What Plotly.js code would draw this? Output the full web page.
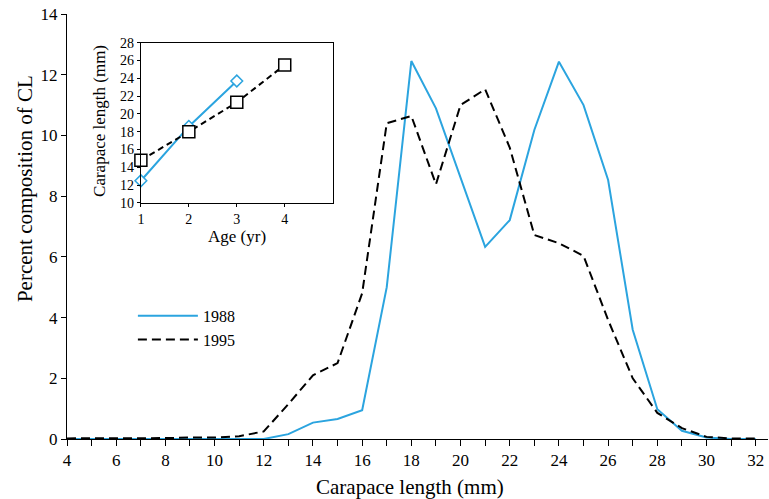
<!DOCTYPE html>
<html>
<head>
<meta charset="utf-8">
<script src="https://cdn.plot.ly/plotly-3.0.1.min.js"></script>
<style>body{margin:0;padding:0;background:#fff;}#chart{width:769px;height:499px;}</style>
</head>
<body>
<div id="chart"></div>
<script>
// Main chart data
const lengths = [4,5,6,7,8,9,10,11,12,13,14,15,16,17,18,19,20,21,22,23,24,25,26,27,28,29,30,31,32];
const pct1988 = [0,0,0,0,0,0,0,0,0,0.16,0.54,0.66,0.95,5.0,12.45,10.89,8.6,6.33,7.21,10.18,12.43,11.0,8.53,3.6,0.98,0.27,0.05,0,0];
const pct1995 = [0.02,0.02,0.02,0.02,0.03,0.05,0.05,0.09,0.25,1.15,2.1,2.5,4.8,10.4,10.64,8.39,11.0,11.52,9.6,6.72,6.45,6.03,3.92,2.0,0.86,0.36,0.07,0.02,0.02];
// Inset data
const ages1988 = [1,2,3];
const cl1988 = [12.5,18.6,23.7];
const ages1995 = [1,2,3,4];
const cl1995 = [14.8,18.0,21.3,25.5];

const xTitle = 'Carapace length (mm)';
const yTitle = 'Percent composition of CL';
const insetXTitle = 'Age (yr)';
const insetYTitle = 'Carapace length (mm)';

const blue = '#2ba4df';
const serif = 'Liberation Serif, Times New Roman, serif';

const traces = [
  {x: lengths, y: pct1988, type:'scatter', mode:'lines', name:'1988',
   line:{color:blue, width:2}, xaxis:'x', yaxis:'y'},
  {x: lengths, y: pct1995, type:'scatter', mode:'lines', name:'1995',
   line:{color:'#000', width:2, dash:'9px,5px'}, xaxis:'x', yaxis:'y'},
  {x: ages1988, y: cl1988, type:'scatter', mode:'lines+markers', showlegend:false, cliponaxis:false,
   line:{color:blue, width:2}, marker:{symbol:'diamond', size:9, color:'#fff', line:{width:1.5, color:blue}},
   xaxis:'x3', yaxis:'y3'},
  {x: ages1995, y: cl1995, type:'scatter', mode:'lines+markers', showlegend:false, cliponaxis:false,
   line:{color:'#000', width:2, dash:'6px,4px'}, marker:{symbol:'square', size:12, color:'#fff', line:{width:1.5, color:'#000'}},
   xaxis:'x3', yaxis:'y3'}
];

const P = (px) => (px - 67) / 702;   // helper for paper x
const Q = (py) => (439 - py) / 425;  // helper for paper y

const insetXDomain = [0.1054,0.379];
const insetYDomain = [0.5553,0.9325];

const layout = {
  width:769, height:499,
  margin:{l:67, r:1, t:14, b:60},
  paper_bgcolor:'#fff', plot_bgcolor:'rgba(0,0,0,0)',
  font:{family:serif, color:'#000', size:16},
  showlegend:true,
  legend:{x:0.094, y:0.33, xanchor:'left', yanchor:'top', bgcolor:'rgba(0,0,0,0)',
          font:{family:serif, size:16}, itemwidth:60, tracegroupgap:4},
  xaxis:{range:[4,32.5], showgrid:false, zeroline:false, showline:true, linecolor:'#000', linewidth:1,
         ticks:'outside', ticklen:6, tickcolor:'#000', tick0:4, dtick:2,
         minor:{ticks:'outside', ticklen:6, dtick:1, tick0:4, tickcolor:'#000'},
         tickfont:{family:serif, size:17}},
  yaxis:{range:[0,14], showgrid:false, zeroline:false, showline:true, linecolor:'#000', linewidth:1,
         ticks:'outside', ticklen:5, tickcolor:'#000', dtick:2,
         tickfont:{family:serif, size:17}},
  xaxis2:{overlaying:'x', anchor:'y', range:[4,32.5], showgrid:false, zeroline:false, showline:false,
          ticks:'inside', ticklen:5, tickcolor:'#000', tick0:4, dtick:1, showticklabels:false},
  yaxis2:{overlaying:'y', anchor:'x', range:[0,14], showgrid:false, zeroline:false, showline:false,
          ticks:'inside', ticklen:5, tickcolor:'#000', dtick:2, showticklabels:false},
  xaxis3:{domain:insetXDomain, anchor:'y3', range:[1,5], tickvals:[1,2,3,4], showgrid:false, zeroline:false,
          showline:true, mirror:true, linecolor:'#000', linewidth:1, ticks:'outside', ticklen:3, tickcolor:'#000',
          tickfont:{family:serif, size:14}},
  yaxis3:{domain:insetYDomain, anchor:'x3', range:[10,28], dtick:2, showgrid:false, zeroline:false,
          showline:true, mirror:true, linecolor:'#000', linewidth:1, ticks:'outside', ticklen:3, tickcolor:'#000',
          tickfont:{family:serif, size:14}},
  xaxis4:{overlaying:'x3', anchor:'y3', range:[1,5], tickvals:[1,2,3,4], showgrid:false, zeroline:false,
          showline:false, ticks:'inside', ticklen:3, tickcolor:'#000', showticklabels:false},
  yaxis4:{overlaying:'y3', anchor:'x3', range:[10,28], dtick:2, showgrid:false, zeroline:false,
          showline:false, ticks:'inside', ticklen:3, tickcolor:'#000', showticklabels:false},
  annotations:[
    {text:xTitle, xref:'paper', yref:'paper', x:P(410), y:Q(487), xanchor:'center', yanchor:'middle',
     showarrow:false, font:{family:serif, size:21}},
    {text:yTitle, xref:'paper', yref:'paper', x:P(25), y:Q(189), xanchor:'center', yanchor:'middle',
     textangle:-90, showarrow:false, font:{family:serif, size:21}},
    {text:insetXTitle, xref:'paper', yref:'paper', x:P(237), y:Q(236), xanchor:'center', yanchor:'middle',
     showarrow:false, font:{family:serif, size:17}},
    {text:insetYTitle, xref:'paper', yref:'paper', x:P(100), y:Q(121), xanchor:'center', yanchor:'middle',
     textangle:-90, showarrow:false, font:{family:serif, size:17}}
  ]
};

Plotly.newPlot('chart', traces, layout, {displayModeBar:false, staticPlot:true});
</script>
</body>
</html>
